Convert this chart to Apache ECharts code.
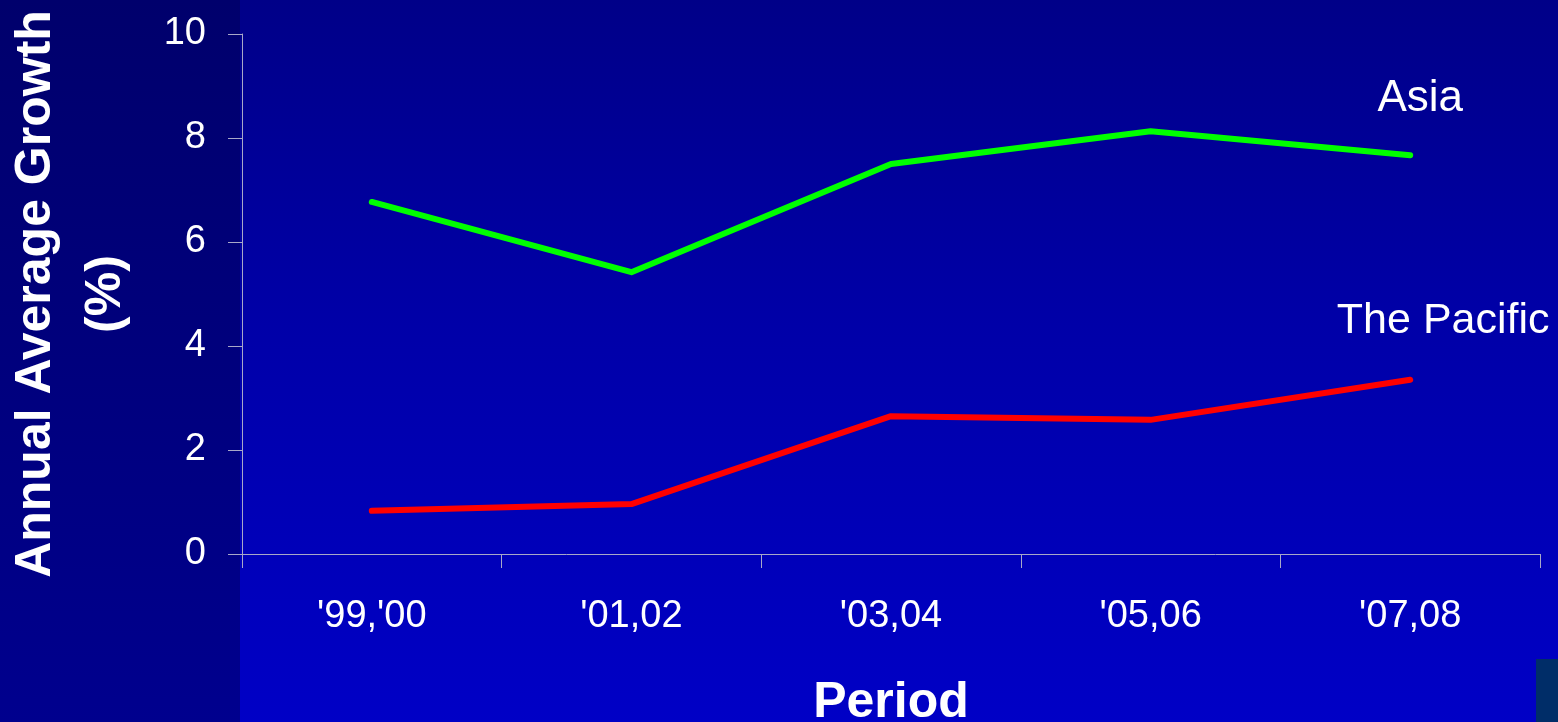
<!DOCTYPE html>
<html>
<head>
<meta charset="utf-8">
<script src="https://cdn.jsdelivr.net/npm/echarts@6/dist/echarts.min.js"></script>
<style>
  html, body { margin: 0; padding: 0; background: #000080; }
  #chart { width: 1558px; height: 722px; }
</style>
</head>
<body>
<div id="chart"></div>
<script>
// Periods (two-year spans) and annual average growth, in percent
const periods = ["'99,'00", "'01,02", "'03,04", "'05,06", "'07,08"];
const asiaGrowth = [6.77, 5.42, 7.5, 8.13, 7.67];
const pacificGrowth = [0.83, 0.96, 2.65, 2.58, 3.35];
const seriesNames = ['Asia', 'The Pacific'];
const yTicks = { min: 0, max: 10, step: 2 };

const FONT = '"Liberation Sans", Arial, Helvetica, sans-serif';
const W = 1558, H = 722;

// Name the last point of a series with the series name
function withEndName(values, name, offset) {
  return values.map((v, i) => i === values.length - 1
    ? { value: v, label: { show: true, formatter: name, position: 'inside', offset: offset } }
    : v);
}

const chart = echarts.init(document.getElementById('chart'), null, { renderer: 'canvas' });

chart.setOption({
  backgroundColor: 'transparent',
  animation: false,
  textStyle: { fontFamily: FONT },
  graphic: [
    {
      type: 'rect', z: -100, silent: true,
      shape: { x: 0, y: 0, width: W, height: H },
      style: { fill: new echarts.graphic.LinearGradient(0, 0, 0, 1, [
        { offset: 0, color: '#00006c' }, { offset: 1, color: '#00008e' }]) }
    },
    {
      type: 'rect', z: -99, silent: true,
      shape: { x: 240, y: 0, width: W - 240, height: H },
      style: { fill: new echarts.graphic.LinearGradient(0, 0, 0, 1, [
        { offset: 0, color: '#000088' }, { offset: 0.45, color: '#0000a8' }, { offset: 1, color: '#0000c6' }]) }
    },
    {
      type: 'rect', z: -98, silent: true,
      shape: { x: 1536, y: 659, width: 22, height: 63 },
      style: { fill: '#002d68' }
    }
  ],
  grid: { left: 242, right: 18, top: 34, bottom: 168, containLabel: false, outerBoundsMode: 'none' },
  xAxis: {
    type: 'category',
    data: periods,
    boundaryGap: true,
    name: 'Period',
    nameLocation: 'middle',
    nameGap: 124,
    nameTextStyle: { color: '#ffffff', fontSize: 50, fontWeight: 'bold', fontFamily: FONT },
    axisLine: { show: true, lineStyle: { color: '#a8a8c8', width: 1 } },
    axisTick: { show: true, length: 14, inside: false, alignWithLabel: false, lineStyle: { color: '#a8a8c8', width: 1 } },
    axisLabel: { color: '#ffffff', fontSize: 38, margin: 44, fontFamily: FONT },
    splitLine: { show: false }
  },
  yAxis: {
    type: 'value',
    min: yTicks.min,
    max: yTicks.max,
    interval: yTicks.step,
    name: 'Annual Average Growth\n(%)',
    nameLocation: 'middle',
    nameRotate: 90,
    nameGap: 101,
    nameTextStyle: { color: '#ffffff', fontSize: 50, fontWeight: 'bold', lineHeight: 70, fontFamily: FONT },
    axisLine: { show: true, lineStyle: { color: '#a8a8c8', width: 1 } },
    axisTick: { show: true, length: 14, inside: false, lineStyle: { color: '#a8a8c8', width: 1 } },
    axisLabel: { color: '#ffffff', fontSize: 38, margin: 36, fontFamily: FONT },
    splitLine: { show: false }
  },
  series: [
    {
      name: seriesNames[0],
      type: 'line',
      data: withEndName(asiaGrowth, seriesNames[0], [10, -56]),
      symbol: 'circle', symbolSize: 0.01, showSymbol: true,
      itemStyle: { color: '#00ff00' },
      lineStyle: { color: '#00ff00', width: 6, cap: 'round', join: 'round' },
      label: { color: '#ffffff', fontSize: 44, fontFamily: FONT },
      emphasis: { disabled: true },
      silent: true
    },
    {
      name: seriesNames[1],
      type: 'line',
      data: withEndName(pacificGrowth, seriesNames[1], [33, -59]),
      symbol: 'circle', symbolSize: 0.01, showSymbol: true,
      itemStyle: { color: '#ff0000' },
      lineStyle: { color: '#ff0000', width: 6, cap: 'round', join: 'round' },
      label: { color: '#ffffff', fontSize: 43, fontFamily: FONT },
      emphasis: { disabled: true },
      silent: true
    }
  ]
});
</script>
</body>
</html>
